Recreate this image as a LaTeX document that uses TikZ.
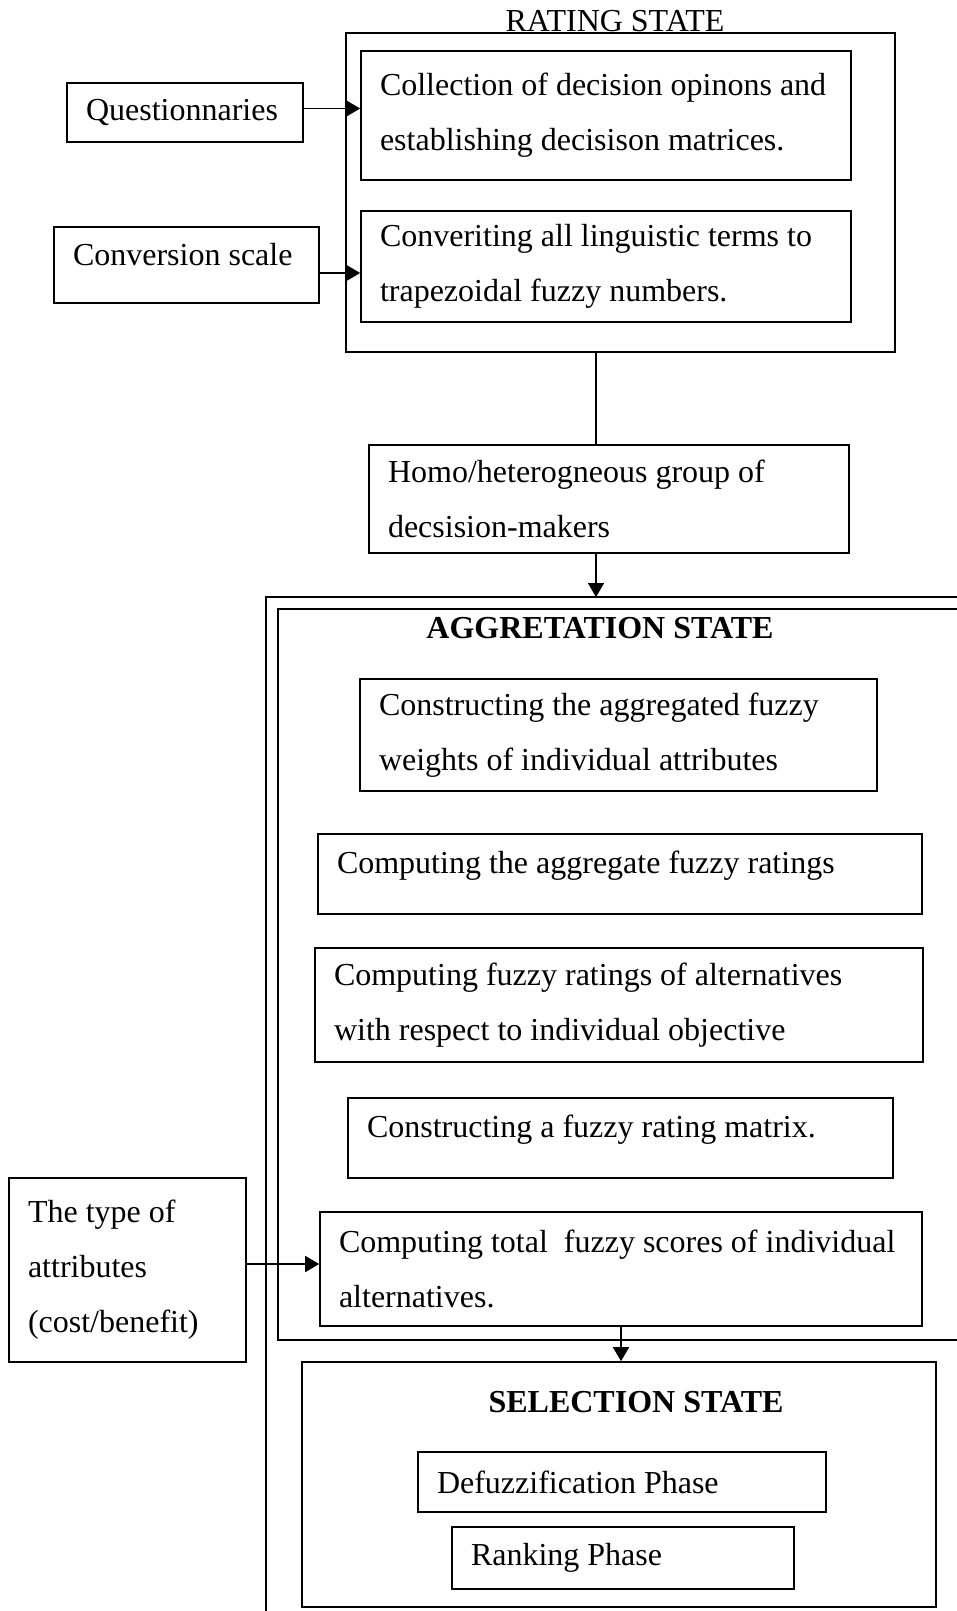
\documentclass[tikz,border=0pt]{standalone}
\usepackage{fontspec}
\setmainfont{Liberation Serif}
\usetikzlibrary{arrows.meta}

\tikzset{
  textbox/.style={draw, line width=0.8pt, align=flush left, inner xsep=9.5pt, inner ysep=2pt,
    font={\fontsize{16pt}{27.5pt}\selectfont}},
  stagebox/.style={draw, line width=0.8pt, inner sep=0pt},
  stagetitle/.style={anchor=base, font={\fontsize{16pt}{27.5pt}\selectfont}},
  arr/.style={line width=0.8pt, -{Triangle[length=7pt, width=8pt]}},
}

\begin{document}
\begin{tikzpicture}[x=0.5pt, y=-0.5pt]
  \useasboundingbox (0,0) rectangle (957,1611);

  % rating state
  \node[stagebox, minimum width=274.5pt, minimum height=159.5pt] (rating) at (620.5,192.5) {};
  \node[stagetitle] (ratingtitle) at (615,32) {RATING STATE};
  \node[textbox, text width=226pt, minimum height=64.5pt] (collect) at (606,115.5)
    {Collection of decision opinons and\\establishing decisison matrices.};
  \node[textbox, text width=226pt, minimum height=55.5pt] (convert) at (606,266.5)
    {Converiting all linguistic terms to\\trapezoidal fuzzy numbers.};
  \node[textbox, text width=99pt, minimum height=29.5pt] (quest) at (185,112.5) {Questionnaries};
  \node[textbox, text width=113.5pt, minimum height=38pt, text depth=11pt] (conv) at (186.5,265) {Conversion scale};

  \node[textbox, text width=221pt, minimum height=54pt] (homo) at (609,499)
    {Homo/heterogneous group of\\decsision-makers};

  % aggregation state
  \coordinate (aggtop) at (596,597);
  \draw[line width=0.8pt] (957,597) -| (266,1611);
  \draw[line width=0.8pt] (957,609) -| (278,1340) -- (957,1340);
  \node[stagetitle] (aggtitle) at (600,638) {\textbf{AGGRETATION STATE}};
  \node[textbox, text width=239.5pt, minimum height=56pt] (aggw) at (618.5,735)
    {Constructing the aggregated fuzzy\\weights of individual attributes};
  \node[textbox, text width=283pt, minimum height=40pt, text depth=12pt] (aggr) at (620,874)
    {Computing the aggregate fuzzy ratings};
  \node[textbox, text width=285pt, minimum height=57pt] (altr) at (619,1005)
    {Computing fuzzy ratings of alternatives\\with respect to individual objective};
  \node[textbox, text width=253.5pt, minimum height=40pt, text depth=12pt] (matrix) at (620.5,1138)
    {Constructing a fuzzy rating matrix.};
  \node[textbox, text width=282pt, minimum height=57pt] (total) at (621,1269)
    {Computing total~ fuzzy scores of individual\\alternatives.};
  \node[textbox, text width=99.5pt, minimum height=92pt] (type) at (127.5,1270)
    {The type of\\attributes\\(cost/benefit)};

  % selection state
  \node[stagebox, minimum width=317pt, minimum height=122.5pt] (select) at (619,1484.5) {};
  \node[stagetitle] (selecttitle) at (636,1412) {\textbf{SELECTION STATE}};
  \node[textbox, text width=185pt, minimum height=30pt] (defuzz) at (622,1482) {Defuzzification Phase};
  \node[textbox, text width=152pt, minimum height=31pt] (rank) at (623,1558) {Ranking Phase};

  % connectors
  \draw[arr] ([yshift=2pt]quest.east) -- ([yshift=2pt]quest.east -| collect.west);
  \draw[arr] ([yshift=-4pt]conv.east) -- ([yshift=-4pt]conv.east -| convert.west);
  \draw[line width=0.8pt] (rating.south -| aggtop) -- (homo.north -| aggtop);
  \draw[arr] (homo.south -| aggtop) -- (aggtop);
  \draw[arr] ([yshift=3pt]type.east) -- ([yshift=3pt]type.east -| total.west);
  \draw[arr] (total.south) -- (total.south |- select.north);
\end{tikzpicture}
\end{document}
